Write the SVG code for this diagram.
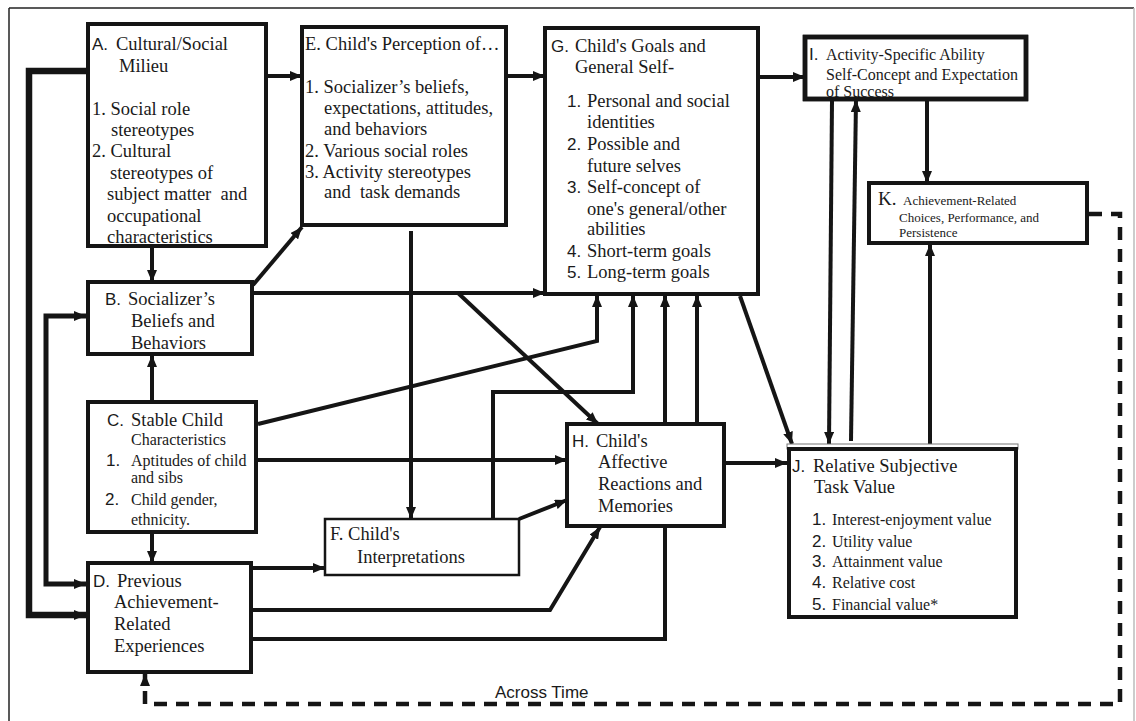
<svg xmlns="http://www.w3.org/2000/svg" width="1136" height="721" viewBox="0 0 1136 721">
<style>
.bx{fill:#fff;stroke:#151515;stroke-width:4}
.bo{fill:none;stroke:#151515;stroke-width:4}
.thin{fill:none;stroke:#151515;stroke-width:2}
.s{font-family:"Liberation Serif","Times New Roman",serif;font-size:18.5px;fill:#1a1a1a}
.a{font-family:"Liberation Sans",Arial,sans-serif;font-size:17px;fill:#1a1a1a}
.sm{font-size:16px}
.xs{font-size:13px}
.c{fill:none;stroke:#151515;stroke-width:4}
.ca{fill:none;stroke:#151515;stroke-width:4;marker-end:url(#ah)}
.dash{fill:none;stroke:#151515;stroke-width:4.5;stroke-dasharray:13 9;marker-end:url(#ah)}
</style>
<defs>
<marker id="ah" markerUnits="userSpaceOnUse" markerWidth="12" markerHeight="10" refX="12" refY="5" orient="auto">
<path d="M0,0 L12,5 L0,10 z" fill="#151515"/>
</marker>
<marker id="as" markerUnits="userSpaceOnUse" markerWidth="12" markerHeight="10" refX="12" refY="5" orient="auto-start-reverse">
<path d="M0,0 L12,5 L0,10 z" fill="#151515"/>
</marker>
<clipPath id="clipC"><rect x="88" y="402" width="168" height="128"/></clipPath>
</defs>
<rect x="0" y="0" width="1136" height="721" fill="#fff"/>
<g id="frame">
<line x1="9" y1="8" x2="1134" y2="8" stroke="#222" stroke-width="1.5"/>
<line x1="9" y1="8" x2="9" y2="721" stroke="#222" stroke-width="1.5"/>
<line x1="1134" y1="8" x2="1134" y2="721" stroke="#bbb" stroke-width="1.5"/>
</g>
<g id="connectors">
<path class="ca" d="M268,76 H302"/>
<path class="ca" d="M88,71 H29 V615 H86" style="stroke-width:6.5"/>
<path d="M86,316 H46 V584 H86" fill="none" stroke="#151515" stroke-width="5" marker-start="url(#as)" marker-end="url(#ah)"/>
<path class="ca" d="M152,248 V282"/>
<path class="ca" d="M253,285 L302,227"/>
<path class="ca" d="M254,293 H545"/>
<path class="ca" d="M458,293 L598,424"/>
<path class="ca" d="M152,402 V355"/>
<path class="ca" d="M258,424 L597,341 V295"/>
<path class="ca" d="M258,460 H567"/>
<path class="ca" d="M152,534 V563"/>
<path class="ca" d="M411,231 V519"/>
<path class="ca" d="M508,76 H545"/>
<path class="ca" d="M760,77 H805"/>
<path class="ca" d="M740,296 L792,444"/>
<path class="ca" d="M832,101 L829,444"/>
<path class="ca" d="M851,441 L856,100"/>
<path class="ca" d="M927,101 V183"/>
<path class="ca" d="M930,447 V244"/>
<path class="ca" d="M493,519 V392 H633 V295"/>
<path class="ca" d="M519,519 L567,500"/>
<path class="ca" d="M665,424 V295"/>
<path class="ca" d="M697,424 V295"/>
<path class="ca" d="M726,463 H787"/>
<path class="ca" d="M253,568 H325"/>
<path class="ca" d="M253,610 H550 L600,527"/>
<path class="c" d="M253,639 H665 V528"/>
<path class="dash" d="M1089,214 H1120 V704 H145 V674"/>
<text class="a" x="495" y="698">Across Time</text>
</g>
<g id="nodeA">
<rect class="bx" x="88" y="24" width="178" height="222"/>
<text class="a" x="92" y="50">A.</text>
<text class="s" x="116" y="50">Cultural/Social</text>
<text class="s" x="119" y="72">Milieu</text>
<text class="s" x="92" y="115">1. Social role</text>
<text class="s" x="111" y="136">stereotypes</text>
<text class="s" x="92" y="157">2. Cultural</text>
<text class="s" x="110" y="179">stereotypes of</text>
<text class="s" x="107" y="200">subject matter&#160; and</text>
<text class="s" x="107" y="222">occupational</text>
<text class="s" x="107" y="243">characteristics</text>
<rect class="bo" x="88" y="24" width="178" height="222"/>
</g>
<g id="nodeE">
<rect class="bx" x="302" y="27" width="204" height="198"/>
<text class="s" x="305" y="50">E. Child's Perception of…</text>
<text class="s" x="305" y="93">1. Socializer’s beliefs,</text>
<text class="s" x="324" y="114">expectations, attitudes,</text>
<text class="s" x="324" y="135">and behaviors</text>
<text class="s" x="305" y="157">2. Various social roles</text>
<text class="s" x="305" y="178">3. Activity stereotypes</text>
<text class="s" x="324" y="198">and&#160; task demands</text>
</g>
<g id="nodeG">
<rect class="bx" x="545" y="28" width="213" height="266"/>
<text class="a" x="551" y="52">G.</text>
<text class="s" x="575" y="52">Child's Goals and</text>
<text class="s" x="575" y="73">General Self-</text>
<text class="a" x="567" y="107">1.</text><text class="s" x="587" y="107">Personal and social</text>
<text class="s" x="587" y="128">identities</text>
<text class="a" x="567" y="150">2.</text><text class="s" x="587" y="150">Possible and</text>
<text class="s" x="587" y="172">future selves</text>
<text class="a" x="567" y="193">3.</text><text class="s" x="587" y="193">Self-concept of</text>
<text class="s" x="587" y="215">one's general/other</text>
<text class="s" x="587" y="235">abilities</text>
<text class="a" x="567" y="257">4.</text><text class="s" x="587" y="257">Short-term goals</text>
<text class="a" x="567" y="278">5.</text><text class="s" x="587" y="278">Long-term goals</text>
</g>
<g id="nodeI">
<rect class="bx" x="805" y="37" width="221" height="62" style="stroke-width:4.5"/>
<text class="a" x="809" y="60">I.</text>
<text class="s sm" x="826" y="60">Activity-Specific Ability</text>
<text class="s sm" x="826" y="80">Self-Concept and Expectation</text>
<text class="s sm" x="826" y="97">of Success</text>
<rect class="bo" x="805" y="37" width="221" height="62" style="stroke-width:4.5"/>
</g>
<g id="nodeK">
<rect class="bx" x="869" y="183" width="218" height="60"/>
<text class="s" x="878" y="205" style="font-size:19px">K.</text>
<text class="s xs" x="903" y="205">Achievement-Related</text>
<text class="s xs" x="899" y="222">Choices, Performance, and</text>
<text class="s xs" x="899" y="237">Persistence</text>
</g>
<g id="nodeB">
<rect class="bx" x="88" y="282" width="164" height="72"/>
<text class="a" x="105" y="305">B.</text>
<text class="s" x="128" y="305">Socializer’s</text>
<text class="s" x="131" y="327">Beliefs and</text>
<text class="s" x="131" y="349">Behaviors</text>
</g>
<g id="nodeC">
<rect class="bx" x="88" y="402" width="168" height="130"/>
<g clip-path="url(#clipC)">
<text class="a" x="107" y="426">C.</text>
<text class="s" x="131" y="426">Stable Child</text>
<text class="s sm" x="131" y="445">Characteristics</text>
<text class="a" x="106" y="466">1.</text><text class="s sm" x="131" y="466">Aptitudes of child</text>
<text class="s sm" x="131" y="483">and sibs</text>
<text class="a" x="105" y="505">2.</text><text class="s sm" x="131" y="505">Child gender,</text>
<text class="s sm" x="131" y="525">ethnicity.</text>
</g>
<rect class="bo" x="88" y="402" width="168" height="130"/>
</g>
<g id="nodeD">
<rect class="bx" x="88" y="563" width="163" height="109"/>
<text class="a" x="93" y="587">D.</text>
<text class="s" x="117" y="587">Previous</text>
<text class="s" x="114" y="608">Achievement-</text>
<text class="s" x="114" y="630">Related</text>
<text class="s" x="114" y="652">Experiences</text>
</g>
<g id="nodeF">
<rect class="bx" x="325" y="519" width="194" height="56" style="stroke-width:2.5"/>
<text class="s" x="330" y="540">F. Child's</text>
<text class="s" x="357" y="563">Interpretations</text>
</g>
<g id="nodeH">
<rect class="bx" x="567" y="424" width="157" height="102"/>
<text class="a" x="572" y="447">H.</text>
<text class="s" x="596" y="447">Child's</text>
<text class="s" x="598" y="468">Affective</text>
<text class="s" x="598" y="490">Reactions and</text>
<text class="s" x="598" y="512">Memories</text>
</g>
<g id="nodeJ">
<rect x="787" y="444" width="231" height="5" fill="#fff" stroke="#777" stroke-width="1"/>
<rect class="bx" x="789" y="449" width="227" height="168"/>
<text class="a" x="792" y="472">J.</text>
<text class="s" x="813" y="472">Relative Subjective</text>
<text class="s" x="814" y="493">Task Value</text>
<text class="a" x="812" y="525">1.</text><text class="s sm" x="832" y="525">Interest-enjoyment value</text>
<text class="a" x="812" y="547">2.</text><text class="s sm" x="832" y="547">Utility value</text>
<text class="a" x="812" y="567">3.</text><text class="s sm" x="832" y="567">Attainment value</text>
<text class="a" x="812" y="588">4.</text><text class="s sm" x="832" y="588">Relative cost</text>
<text class="a" x="812" y="610">5.</text><text class="s sm" x="832" y="610">Financial value*</text>
</g>
</svg>
